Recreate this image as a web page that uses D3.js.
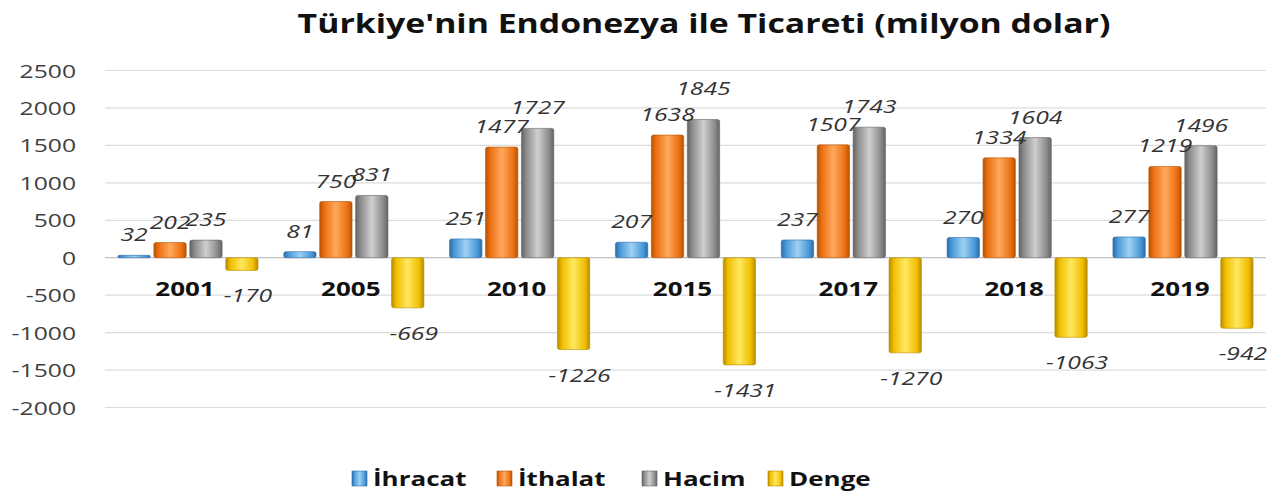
<!DOCTYPE html>
<html>
<head>
<meta charset="utf-8">
<script src="https://cdn.jsdelivr.net/npm/d3@7"></script>
<style>
  body { margin: 0; background: #fff; }
  text { font-family: "Open Sans", sans-serif; }
</style>
</head>
<body>
<div id="chart"></div>
<script>
var years = ["2001", "2005", "2010", "2015", "2017", "2018", "2019"];
var ihracat = [32, 81, 251, 207, 237, 270, 277];
var ithalat = [202, 750, 1477, 1638, 1507, 1334, 1219];
var hacim = [235, 831, 1727, 1845, 1743, 1604, 1496];
var denge = [-170, -669, -1226, -1431, -1270, -1063, -942];
var seriesNames = ["İhracat", "İthalat", "Hacim", "Denge"];
var yTicks = [2500, 2000, 1500, 1000, 500, 0, -500, -1000, -1500, -2000];

var W = 1274, H = 495;
var margin = {top: 71, right: 8, bottom: 87, left: 105};
var SX = 1.3; // text in the picture is stretched sideways

var colors = {
  "İhracat": ["#2b6cab", "#4a9ad9", "#9fd0f3"],
  "İthalat": ["#b95300", "#ec7114", "#ffa95c"],
  "Hacim":   ["#646464", "#8c8c8c", "#cfcfcf"],
  "Denge":   ["#b88b00", "#f0bf00", "#ffe860"]
};

var values = [ihracat, ithalat, hacim, denge];
var data = [];
years.forEach(function (y, i) {
  seriesNames.forEach(function (s, j) {
    data.push({year: y, series: s, value: values[j][i]});
  });
});

var svg = d3.select("#chart").append("svg")
  .attr("width", W).attr("height", H);

var defs = svg.append("defs");
seriesNames.forEach(function (s, j) {
  var c = colors[s];
  var g = defs.append("linearGradient").attr("id", "grad" + j)
    .attr("x1", "0%").attr("x2", "100%").attr("y1", "0%").attr("y2", "0%");
  [[0, c[0]], [0.15, c[1]], [0.5, c[2]], [0.85, c[1]], [1, c[0]]].forEach(function (st) {
    g.append("stop").attr("offset", st[0]).attr("stop-color", st[1]);
  });
});

function stretched(sel, x, y) {
  return sel.attr("transform", "translate(" + x + "," + y + ") scale(" + SX + ",1)");
}

var x0 = d3.scaleBand().domain(years)
  .range([margin.left, W - margin.right]).paddingInner(0.155).paddingOuter(0.078);
var x1 = d3.scaleBand().domain(seriesNames)
  .range([0, x0.bandwidth()]).paddingInner(0.1);
var y = d3.scaleLinear().domain([-2000, 2500])
  .range([H - margin.bottom - 0.5, margin.top - 0.5]);

// title
stretched(svg.append("text"), 704, 33)
  .attr("text-anchor", "middle")
  .attr("font-size", 26).attr("font-weight", 700).attr("fill", "#111")
  .text("Türkiye'nin Endonezya ile Ticareti (milyon dolar)");

// gridlines
svg.append("g").selectAll("line").data(yTicks).join("line")
  .attr("x1", margin.left).attr("x2", W - margin.right)
  .attr("y1", function (d) { return y(d); }).attr("y2", function (d) { return y(d); })
  .attr("stroke", function (d) { return d === 0 ? "#bfbfbf" : "#dcdcdc"; })
  .attr("stroke-width", 1.2);

// y tick labels
svg.append("g").selectAll("text").data(yTicks).join("text")
  .each(function (d) { stretched(d3.select(this), 76, y(d) + 7); })
  .attr("text-anchor", "end")
  .attr("font-size", 19).attr("fill", "#404040")
  .text(function (d) { return d; });

// bars
svg.append("g").selectAll("rect").data(data).join("rect")
  .attr("x", function (d) { return x0(d.year) + x1(d.series); })
  .attr("width", x1.bandwidth())
  .attr("y", function (d) { return y(Math.max(0, d.value)); })
  .attr("height", function (d) { return Math.max(2, Math.abs(y(d.value) - y(0))); })
  .attr("rx", 2)
  .attr("fill", function (d) { return "url(#grad" + seriesNames.indexOf(d.series) + ")"; })
  .attr("stroke", function (d) { return colors[d.series][0]; })
  .attr("stroke-width", 0.6);

// year labels
svg.append("g").selectAll("text").data(years).join("text")
  .each(function (d) { stretched(d3.select(this), x0(d) + x0.bandwidth() / 2 - 3, 296); })
  .attr("text-anchor", "middle")
  .attr("font-size", 20).attr("font-weight", 700).attr("fill", "#111")
  .text(function (d) { return d; });

// value labels, pushed up when they run hard into the label to their left
var placed = {};
svg.append("g").selectAll("text").data(data).join("text")
  .attr("text-anchor", "middle")
  .attr("font-size", 19).attr("font-style", "italic").attr("fill", "#333")
  .text(function (d) { return d.value; })
  .each(function (d) {
    var cx = x0(d.year) + x1(d.series) + x1.bandwidth() / 2;
    var ty;
    if (d.value >= 0) {
      ty = y(d.value) - 14;
      var w = this.getComputedTextLength() * SX;
      var prev = placed[d.year];
      if (prev && prev.right - (cx - w / 2) > 15 && Math.abs(ty - prev.y) < 16) {
        ty = prev.y - 26;
      }
      placed[d.year] = {right: cx + w / 2, y: ty};
    } else {
      ty = y(d.value) + 32;
      cx += 6;
    }
    stretched(d3.select(this), cx, ty);
  });

// legend
var legX = [352, 497, 642, 768];
var leg = svg.append("g").selectAll("g").data(seriesNames).join("g")
  .attr("transform", function (d, i) { return "translate(" + legX[i] + ",471)"; });
leg.append("rect").attr("width", 15).attr("height", 15)
  .attr("fill", function (d, i) { return "url(#grad" + i + ")"; })
  .attr("stroke", function (d) { return colors[d][0]; }).attr("stroke-width", 0.6);
leg.append("text")
  .each(function () { stretched(d3.select(this), 21, 15); })
  .attr("font-size", 20).attr("font-weight", 700).attr("fill", "#111")
  .text(function (d) { return d; });
</script>
</body>
</html>
